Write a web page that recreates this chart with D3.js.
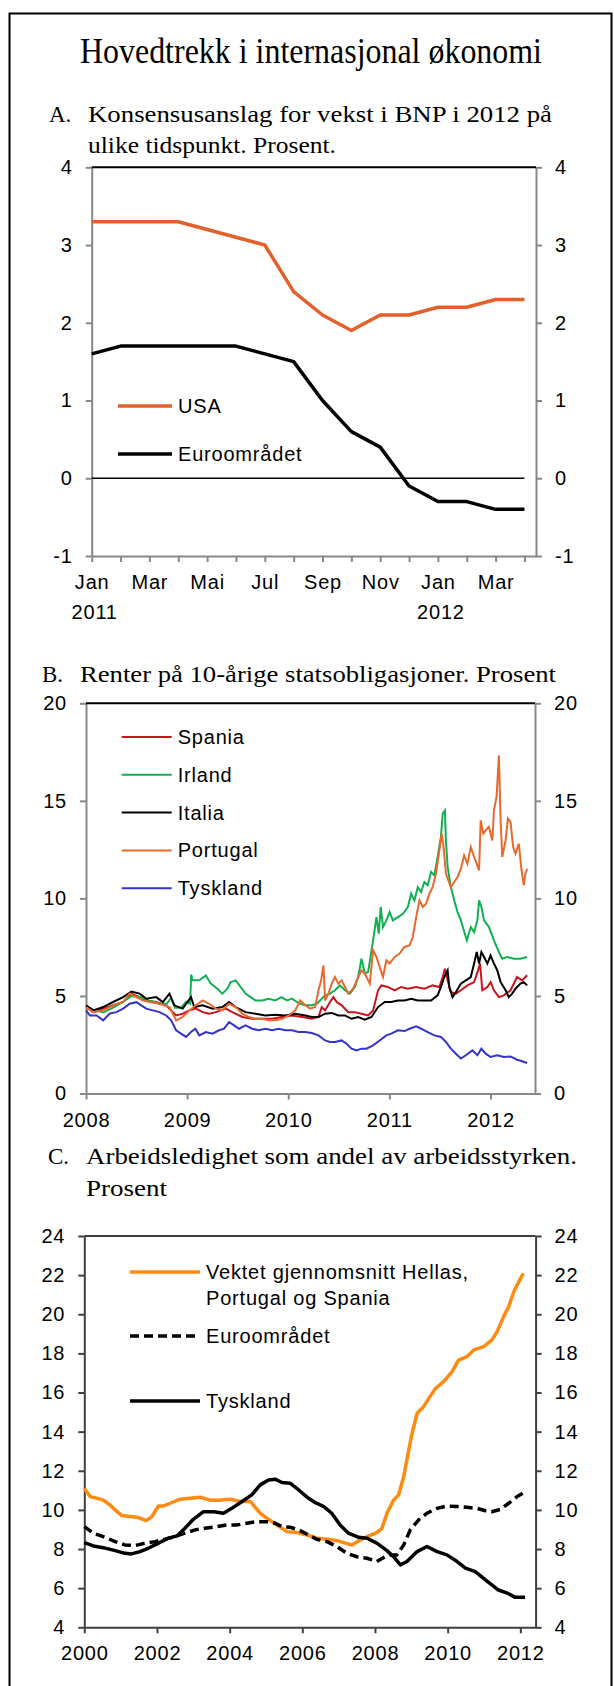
<!DOCTYPE html>
<html>
<head>
<meta charset="utf-8">
<script src="https://cdn.jsdelivr.net/npm/d3@7"></script>
<style>
body { margin: 0; background: #fff; }
text { font-family: "Liberation Sans", Arial, sans-serif; }
.serif { font-family: "Liberation Serif", "Times New Roman", serif; }
</style>
</head>
<body>
<script>
// ---------- Panel A: consensus GDP growth forecasts for 2012, monthly Jan 2011 - Apr 2012
var monthsA = ["Jan", "Feb", "Mar", "Apr", "Mai", "Jun", "Jul", "Aug", "Sep", "Okt", "Nov", "Des", "Jan", "Feb", "Mar", "Apr"];
var usaA = [3.3, 3.3, 3.3, 3.3, 3.2, 3.1, 3.0, 2.4, 2.1, 1.9, 2.1, 2.1, 2.2, 2.2, 2.3, 2.3];
var euroA = [1.6, 1.7, 1.7, 1.7, 1.7, 1.7, 1.6, 1.5, 1.0, 0.6, 0.4, -0.1, -0.3, -0.3, -0.4, -0.4];
var yTicksA = [-1, 0, 1, 2, 3, 4];
var yearLabelsA = [[0, "2011"], [12, "2012"]];

// ---------- Panel B: 10 year government bond yields, [year, percent]
var yTicksB = [0, 5, 10, 15, 20];
var xTicksB = [2008, 2009, 2010, 2011, 2012];
var spaniaB = [[2008.000,4.43],[2008.072,4.17],[2008.170,4.35],[2008.268,4.52],[2008.367,4.69],[2008.449,5.12],[2008.530,4.94],[2008.596,4.77],[2008.694,4.69],[2008.792,4.52],[2008.891,4.0],[2008.956,4.09],[2009.022,4.26],[2009.087,4.35],[2009.153,4.17],[2009.218,4.09],[2009.284,4.17],[2009.382,4.35],[2009.447,4.17],[2009.546,3.92],[2009.644,3.83],[2009.742,3.83],[2009.840,3.83],[2009.938,3.92],[2010.037,4.0],[2010.135,3.92],[2010.233,3.83],[2010.299,3.92],[2010.331,4.43],[2010.364,4.26],[2010.413,4.69],[2010.446,4.94],[2010.479,4.69],[2010.528,4.52],[2010.593,4.17],[2010.659,4.17],[2010.724,4.09],[2010.790,4.0],[2010.839,4.26],[2010.888,5.29],[2010.921,5.54],[2010.986,5.46],[2011.052,5.29],[2011.117,5.46],[2011.183,5.37],[2011.265,5.46],[2011.346,5.37],[2011.428,5.54],[2011.494,5.46],[2011.527,5.97],[2011.549,6.4],[2011.576,5.8],[2011.608,5.2],[2011.658,5.12],[2011.707,5.29],[2011.772,5.54],[2011.838,5.71],[2011.877,6.31],[2011.897,6.66],[2011.919,5.29],[2011.969,5.46],[2012.001,5.71],[2012.034,5.29],[2012.083,4.94],[2012.132,5.03],[2012.198,5.29],[2012.263,5.97],[2012.312,5.8],[2012.362,6.06]];
var irlandB = [[2008.000,4.45],[2008.072,4.3],[2008.170,4.15],[2008.268,4.4],[2008.367,4.7],[2008.449,5.0],[2008.530,4.95],[2008.629,4.75],[2008.727,4.6],[2008.800,4.6],[2008.840,4.9],[2008.880,4.4],[2008.940,4.4],[2008.990,4.7],[2009.030,4.6],[2009.040,6.1],[2009.054,5.8],[2009.120,5.8],[2009.185,6.05],[2009.234,5.63],[2009.300,5.37],[2009.349,5.12],[2009.398,5.37],[2009.431,5.71],[2009.480,5.8],[2009.529,5.46],[2009.578,5.12],[2009.627,4.94],[2009.676,4.77],[2009.742,4.77],[2009.807,4.86],[2009.873,4.77],[2009.932,4.94],[2009.988,4.77],[2010.037,4.86],[2010.086,4.69],[2010.119,4.6],[2010.168,4.52],[2010.233,4.52],[2010.282,4.6],[2010.331,4.86],[2010.364,5.03],[2010.413,5.12],[2010.462,5.29],[2010.511,5.54],[2010.561,5.29],[2010.610,5.12],[2010.659,5.46],[2010.692,5.97],[2010.724,6.91],[2010.757,6.14],[2010.790,6.23],[2010.839,7.85],[2010.872,9.04],[2010.895,8.19],[2010.914,9.56],[2010.937,8.53],[2010.970,8.87],[2011.002,9.3],[2011.035,8.87],[2011.084,9.04],[2011.134,9.21],[2011.183,9.56],[2011.215,10.24],[2011.248,9.9],[2011.281,10.58],[2011.314,10.33],[2011.346,10.84],[2011.379,10.67],[2011.412,11.35],[2011.445,11.18],[2011.477,12.12],[2011.510,13.15],[2011.527,14.34],[2011.549,14.51],[2011.559,12.97],[2011.576,11.61],[2011.608,10.58],[2011.641,9.9],[2011.674,9.3],[2011.707,8.87],[2011.746,8.19],[2011.766,7.85],[2011.805,8.53],[2011.838,8.27],[2011.870,8.87],[2011.887,9.9],[2011.910,9.56],[2011.936,8.87],[2011.985,8.53],[2012.034,7.85],[2012.083,7.25],[2012.116,6.91],[2012.165,7.0],[2012.231,6.91],[2012.296,6.91],[2012.362,7.0]];
var italiaB = [[2008.000,4.52],[2008.072,4.26],[2008.170,4.43],[2008.268,4.69],[2008.367,4.94],[2008.449,5.23],[2008.530,5.12],[2008.596,4.86],[2008.694,4.94],[2008.760,4.69],[2008.825,5.12],[2008.874,4.52],[2008.956,4.35],[2009.038,4.94],[2009.071,4.43],[2009.153,4.52],[2009.251,4.35],[2009.349,4.43],[2009.415,4.69],[2009.480,4.43],[2009.578,4.17],[2009.676,4.09],[2009.775,4.0],[2009.873,4.04],[2009.971,4.0],[2010.069,4.09],[2010.168,4.0],[2010.233,3.92],[2010.299,3.92],[2010.364,4.09],[2010.430,4.13],[2010.495,4.0],[2010.561,4.0],[2010.626,3.83],[2010.692,3.92],[2010.757,3.78],[2010.823,3.92],[2010.888,4.43],[2010.954,4.69],[2011.019,4.69],[2011.084,4.77],[2011.150,4.77],[2011.215,4.86],[2011.281,4.77],[2011.346,4.77],[2011.412,4.77],[2011.477,5.03],[2011.510,5.46],[2011.543,5.97],[2011.576,6.31],[2011.592,5.46],[2011.625,4.94],[2011.658,5.2],[2011.707,5.63],[2011.756,5.8],[2011.805,5.97],[2011.838,6.66],[2011.864,7.25],[2011.887,6.66],[2011.910,7.25],[2011.936,7.0],[2011.969,6.66],[2012.001,7.08],[2012.034,6.66],[2012.067,6.31],[2012.100,5.71],[2012.149,5.29],[2012.181,4.94],[2012.214,5.12],[2012.247,5.37],[2012.296,5.63],[2012.329,5.71],[2012.362,5.54]];
var portugalB = [[2008.000,4.43],[2008.072,4.17],[2008.170,4.26],[2008.268,4.52],[2008.367,4.69],[2008.432,5.12],[2008.498,4.94],[2008.563,4.77],[2008.629,4.69],[2008.727,4.6],[2008.825,4.43],[2008.891,3.75],[2008.956,3.92],[2009.022,4.26],[2009.087,4.52],[2009.153,4.77],[2009.218,4.6],[2009.284,4.35],[2009.349,4.26],[2009.415,4.6],[2009.480,4.43],[2009.546,4.09],[2009.611,3.92],[2009.676,3.83],[2009.742,3.83],[2009.807,3.75],[2009.873,3.75],[2009.938,3.83],[2010.004,4.0],[2010.069,4.26],[2010.119,4.77],[2010.168,4.52],[2010.217,4.35],[2010.266,4.43],[2010.299,5.29],[2010.325,5.8],[2010.348,6.57],[2010.364,4.77],[2010.397,5.12],[2010.430,5.63],[2010.462,5.97],[2010.495,5.63],[2010.528,5.8],[2010.561,5.46],[2010.593,5.12],[2010.642,5.37],[2010.692,5.97],[2010.724,6.31],[2010.757,6.14],[2010.790,5.8],[2010.806,5.63],[2010.839,7.34],[2010.872,7.0],[2010.904,6.48],[2010.937,5.97],[2010.970,6.83],[2011.002,6.66],[2011.052,7.0],[2011.101,7.17],[2011.150,7.51],[2011.199,7.59],[2011.232,8.02],[2011.265,9.04],[2011.297,9.9],[2011.330,9.56],[2011.363,9.73],[2011.396,10.24],[2011.428,10.58],[2011.461,11.27],[2011.494,12.46],[2011.517,13.32],[2011.536,12.63],[2011.559,11.27],[2011.582,10.93],[2011.608,10.58],[2011.641,10.84],[2011.674,11.1],[2011.707,11.52],[2011.739,12.2],[2011.772,11.78],[2011.805,12.63],[2011.838,12.12],[2011.864,11.78],[2011.887,11.44],[2011.903,14.0],[2011.929,13.32],[2011.952,13.49],[2011.985,13.66],[2012.018,12.97],[2012.034,14.51],[2012.060,15.2],[2012.083,17.33],[2012.100,14.0],[2012.116,12.12],[2012.149,12.97],[2012.172,14.09],[2012.198,13.92],[2012.224,12.63],[2012.247,12.29],[2012.280,12.8],[2012.303,11.61],[2012.329,10.67],[2012.345,11.27],[2012.362,11.52]];
var tysklandB = [[2008.000,4.26],[2008.039,4.0],[2008.105,4.0],[2008.170,3.75],[2008.236,4.1],[2008.301,4.17],[2008.367,4.35],[2008.432,4.6],[2008.498,4.68],[2008.547,4.52],[2008.596,4.35],[2008.661,4.26],[2008.727,4.17],[2008.792,4.0],[2008.842,3.75],[2008.891,3.24],[2008.940,3.07],[2008.989,2.9],[2009.038,3.15],[2009.081,3.32],[2009.120,2.98],[2009.185,3.15],[2009.251,3.07],[2009.316,3.24],[2009.365,3.32],[2009.415,3.66],[2009.464,3.49],[2009.513,3.32],[2009.578,3.49],[2009.644,3.32],[2009.709,3.24],[2009.775,3.32],[2009.840,3.24],[2009.906,3.32],[2009.971,3.24],[2010.037,3.24],[2010.102,3.15],[2010.168,3.15],[2010.233,3.1],[2010.299,2.98],[2010.364,2.72],[2010.413,2.64],[2010.462,2.64],[2010.528,2.72],[2010.577,2.55],[2010.626,2.3],[2010.675,2.21],[2010.724,2.3],[2010.773,2.3],[2010.839,2.47],[2010.904,2.72],[2010.970,2.98],[2011.019,3.07],[2011.084,3.24],[2011.150,3.2],[2011.199,3.32],[2011.265,3.44],[2011.314,3.32],[2011.379,3.15],[2011.445,2.98],[2011.510,2.9],[2011.559,2.64],[2011.608,2.3],[2011.658,2.04],[2011.707,1.79],[2011.756,1.96],[2011.821,2.21],[2011.870,1.96],[2011.910,2.3],[2011.952,2.04],[2012.001,1.87],[2012.067,1.96],[2012.132,1.87],[2012.198,1.9],[2012.263,1.73],[2012.312,1.65],[2012.362,1.56]];

// ---------- Panel C: unemployment, [year, percent]
var yTicksC = [4, 6, 8, 10, 12, 14, 16, 18, 20, 22, 24];
var xTicksC = [2000, 2002, 2004, 2006, 2008, 2010, 2012];
var sorC = [[2000.00,11.1],[2000.16,10.68],[2000.34,10.6],[2000.52,10.5],[2000.71,10.25],[2000.85,10.0],[2001.03,9.71],[2001.26,9.66],[2001.49,9.61],[2001.70,9.45],[2001.86,9.66],[2002.04,10.2],[2002.18,10.2],[2002.36,10.34],[2002.64,10.55],[2002.91,10.6],[2003.19,10.65],[2003.46,10.5],[2003.74,10.5],[2004.01,10.55],[2004.29,10.43],[2004.57,10.43],[2004.84,9.83],[2005.07,9.52],[2005.30,9.23],[2005.58,8.89],[2005.85,8.84],[2006.13,8.72],[2006.40,8.55],[2006.68,8.5],[2006.95,8.43],[2007.18,8.3],[2007.37,8.21],[2007.60,8.47],[2007.83,8.67],[2008.05,8.84],[2008.19,9.06],[2008.33,9.83],[2008.51,10.5],[2008.65,10.77],[2008.79,11.7],[2008.93,13.07],[2009.02,13.92],[2009.16,14.94],[2009.34,15.28],[2009.48,15.7],[2009.66,16.2],[2009.89,16.56],[2010.12,17.07],[2010.30,17.66],[2010.53,17.83],[2010.72,18.18],[2010.99,18.35],[2011.22,18.69],[2011.36,19.11],[2011.54,19.88],[2011.68,20.39],[2011.82,21.15],[2011.96,21.67],[2012.08,22.09]];
var euroC = [[2000.00,9.15],[2000.25,8.8],[2000.52,8.64],[2000.85,8.38],[2001.12,8.21],[2001.40,8.18],[2001.67,8.3],[2001.95,8.38],[2002.22,8.5],[2002.50,8.64],[2002.77,8.81],[2003.05,8.98],[2003.32,9.06],[2003.65,9.15],[2003.92,9.23],[2004.20,9.23],[2004.47,9.32],[2004.75,9.4],[2005.02,9.4],[2005.25,9.32],[2005.44,9.15],[2005.67,9.11],[2005.90,8.98],[2006.17,8.72],[2006.40,8.5],[2006.68,8.38],[2006.95,8.13],[2007.23,7.78],[2007.50,7.61],[2007.78,7.53],[2008.05,7.36],[2008.28,7.61],[2008.42,7.7],[2008.60,7.7],[2008.79,8.21],[2008.97,8.98],[2009.20,9.49],[2009.43,9.83],[2009.71,10.08],[2009.98,10.2],[2010.26,10.17],[2010.53,10.13],[2010.81,10.08],[2011.04,9.96],[2011.22,9.91],[2011.45,10.03],[2011.68,10.34],[2011.91,10.68],[2012.09,10.88]];
var tysklandC = [[2000.00,8.33],[2000.25,8.16],[2000.52,8.07],[2000.85,7.92],[2001.12,7.78],[2001.30,7.75],[2001.53,7.87],[2001.76,8.04],[2002.04,8.3],[2002.31,8.55],[2002.55,8.67],[2002.77,9.06],[2003.00,9.52],[2003.28,9.91],[2003.56,9.91],[2003.83,9.83],[2004.06,10.08],[2004.34,10.43],[2004.61,10.77],[2004.84,11.28],[2005.07,11.53],[2005.25,11.57],[2005.44,11.4],[2005.67,11.36],[2005.90,11.02],[2006.13,10.65],[2006.36,10.37],[2006.59,10.17],[2006.81,9.83],[2007.04,9.23],[2007.27,8.81],[2007.55,8.6],[2007.78,8.55],[2008.05,8.3],[2008.33,7.92],[2008.51,7.61],[2008.70,7.19],[2008.88,7.36],[2009.16,7.87],[2009.43,8.13],[2009.71,7.87],[2009.98,7.7],[2010.26,7.36],[2010.49,7.02],[2010.76,6.85],[2011.04,6.42],[2011.38,5.92],[2011.64,5.75],[2011.86,5.53],[2012.13,5.53]];

var w = 614;
var h = 1686;
var sans = "Liberation Sans, Arial, sans-serif";

var svg = d3.select("body")
	.append("svg")
	.attr("width", w)
	.attr("height", h);

// outer frame (open at the bottom, runs off the page)
svg.append("rect")
	.attr("x", 9.5)
	.attr("y", 13.5)
	.attr("width", 602)
	.attr("height", 1720)
	.attr("fill", "none")
	.attr("stroke", "#000")
	.attr("stroke-width", 2);

svg.append("text")
	.attr("class", "serif")
	.attr("x", 80)
	.attr("y", 63)
	.attr("font-size", 36)
	.attr("textLength", 462)
	.attr("lengthAdjust", "spacingAndGlyphs")
	.text("Hovedtrekk i internasjonal økonomi");

function heading(letter, lx, tx, lines, ys, lens) {
	svg.append("text").attr("class", "serif")
		.attr("x", lx).attr("y", ys[0]).attr("font-size", 23)
		.text(letter);
	lines.forEach(function(s, i) {
		svg.append("text").attr("class", "serif")
			.attr("x", tx).attr("y", ys[i]).attr("font-size", 23)
			.attr("textLength", lens[i]).attr("lengthAdjust", "spacingAndGlyphs")
			.text(s);
	});
}

heading("A.", 49, 88, ["Konsensusanslag for vekst i BNP i 2012 på", "ulike tidspunkt. Prosent."], [122, 153], [464, 248]);
heading("B.", 42, 80, ["Renter på 10-årige statsobligasjoner. Prosent"], [682], [476]);
heading("C.", 48, 86, ["Arbeidsledighet som andel av arbeidsstyrken.", "Prosent"], [1164, 1196], [491, 81]);

// plain hyphen for negatives, like the original
var fmtTick = function(d) { return String(d); };

function styleAxis(g, color) {
	g.attr("font-family", sans).attr("font-size", 20);
	g.select(".domain").attr("stroke", color).attr("stroke-width", 2);
	g.selectAll(".tick line").attr("stroke", color).attr("stroke-width", 2);
	g.selectAll(".tick text").attr("fill", "#000").style("letter-spacing", "0.8px");
}

function yAxes(y, x0, x1, ticks, color) {
	svg.append("g")
		.attr("transform", "translate(" + x0 + ",0)")
		.call(d3.axisLeft(y).tickValues(ticks).tickSize(6).tickPadding(13).tickSizeOuter(0).tickFormat(fmtTick))
		.call(styleAxis, color);
	svg.append("g")
		.attr("transform", "translate(" + x1 + ",0)")
		.call(d3.axisRight(y).tickValues(ticks).tickSize(6).tickPadding(13).tickSizeOuter(0).tickFormat(fmtTick))
		.call(styleAxis, color);
}

function legendRow(x0, x1, y, color, width, dash, label) {
	svg.append("line")
		.attr("x1", x0).attr("x2", x1).attr("y1", y).attr("y2", y)
		.attr("stroke", color).attr("stroke-width", width)
		.attr("stroke-dasharray", dash);
	svg.append("text")
		.attr("x", x1 + 6).attr("y", y + 7)
		.attr("font-size", 20)
		.style("letter-spacing", "0.8px")
		.text(label);
}

// ================= Panel A =================
var xA = d3.scaleLinear().domain([0, 15.4]).range([91.7, 536]);
var yA = d3.scaleLinear().domain([-1, 4]).range([556, 167.3]);

svg.append("g")
	.attr("transform", "translate(0," + yA(-1) + ")")
	.call(d3.axisBottom(xA).tickValues(d3.range(monthsA.length)).tickSize(6).tickPadding(13).tickSizeOuter(0)
		.tickFormat(function(d) { return d % 2 == 0 ? monthsA[d] : ""; }))
	.call(styleAxis, "#888");
yAxes(yA, 91.7, 536, yTicksA, "#888");

svg.selectAll(".yearA")
	.data(yearLabelsA)
	.enter()
	.append("text")
	.attr("x", function(d) { return xA(d[0]) + 3; })
	.attr("y", 619)
	.attr("text-anchor", "middle")
	.attr("font-size", 20)
	.style("letter-spacing", "0.8px")
	.text(function(d) { return d[1]; });

svg.append("line")
	.attr("x1", xA.range()[0]).attr("x2", xA.range()[1])
	.attr("y1", yA(4)).attr("y2", yA(4))
	.attr("stroke", "#000").attr("stroke-width", 2);
svg.append("line")
	.attr("x1", xA(0)).attr("x2", xA(monthsA.length - 1))
	.attr("y1", yA(0)).attr("y2", yA(0))
	.attr("stroke", "#000").attr("stroke-width", 1.5);

var lineA = d3.line()
	.x(function(d, i) { return xA(i); })
	.y(function(d) { return yA(d); });
svg.append("path").datum(usaA).attr("d", lineA)
	.attr("fill", "none").attr("stroke", "#E4602B").attr("stroke-width", 3.5).attr("stroke-linejoin", "round");
svg.append("path").datum(euroA).attr("d", lineA)
	.attr("fill", "none").attr("stroke", "#000").attr("stroke-width", 3.5).attr("stroke-linejoin", "round");

legendRow(118, 172, 406, "#E4602B", 3.5, null, "USA");
legendRow(118, 172, 454, "#000", 3.5, null, "Euroområdet");

// ================= Panel B =================
var xB = d3.scaleLinear().domain([2008, 2012.44]).range([86, 535]);
var yB = d3.scaleLinear().domain([0, 20]).range([1093.5, 703.3]);

svg.append("g")
	.attr("transform", "translate(0," + yB(0) + ")")
	.call(d3.axisBottom(xB).tickValues(xTicksB).tickSize(6).tickPadding(13).tickSizeOuter(0).tickFormat(d3.format("d")))
	.call(styleAxis, "#888");
yAxes(yB, 86, 535, yTicksB, "#888");
svg.append("line")
	.attr("x1", 86).attr("x2", 535)
	.attr("y1", yB(20)).attr("y2", yB(20))
	.attr("stroke", "#000").attr("stroke-width", 2);

var seriesB = [
	[spaniaB, "#C8141E", "Spania"],
	[irlandB, "#10B050", "Irland"],
	[italiaB, "#000000", "Italia"],
	[portugalB, "#E8682E", "Portugal"],
	[tysklandB, "#3434CC", "Tyskland"]
];
var lineB = d3.line()
	.x(function(d) { return xB(d[0]); })
	.y(function(d) { return yB(d[1]); });
seriesB.forEach(function(s, i) {
	svg.append("path").datum(s[0]).attr("d", lineB)
		.attr("fill", "none").attr("stroke", s[1]).attr("stroke-width", 2);
	legendRow(121.7, 171.7, 737 + i * 37.8, s[1], 2, null, s[2]);
});

// ================= Panel C =================
var xC = d3.scaleLinear().domain([2000, 2012.42]).range([84.3, 535.6]);
var yC = d3.scaleLinear().domain([4, 24]).range([1627.3, 1236]);

svg.append("g")
	.attr("transform", "translate(0," + yC(4) + ")")
	.call(d3.axisBottom(xC).tickValues(xTicksC).tickSize(6).tickPadding(13).tickSizeOuter(0).tickFormat(d3.format("d")))
	.call(styleAxis, "#404040");
yAxes(yC, 84.3, 535.6, yTicksC, "#404040");
svg.append("line")
	.attr("x1", 84.3).attr("x2", 535.6)
	.attr("y1", yC(24)).attr("y2", yC(24))
	.attr("stroke", "#404040").attr("stroke-width", 2);

var lineC = d3.line()
	.x(function(d) { return xC(d[0]); })
	.y(function(d) { return yC(d[1]); });
svg.append("path").datum(sorC).attr("d", lineC)
	.attr("fill", "none").attr("stroke", "#FF8A10").attr("stroke-width", 3.5).attr("stroke-linejoin", "round");
svg.append("path").datum(euroC).attr("d", lineC)
	.attr("fill", "none").attr("stroke", "#000").attr("stroke-width", 3.5).attr("stroke-dasharray", "9,5");
svg.append("path").datum(tysklandC).attr("d", lineC)
	.attr("fill", "none").attr("stroke", "#000").attr("stroke-width", 3.5).attr("stroke-linejoin", "round");

legendRow(130, 200, 1272, "#FF8A10", 3.5, null, "Vektet gjennomsnitt Hellas,");
svg.append("text")
	.attr("x", 206).attr("y", 1305)
	.attr("font-size", 20)
	.style("letter-spacing", "0.8px")
	.text("Portugal og Spania");
legendRow(130, 200, 1336, "#000", 3.5, "9,5", "Euroområdet");
legendRow(130, 200, 1401, "#000", 3.5, null, "Tyskland");
</script>
</body>
</html>
